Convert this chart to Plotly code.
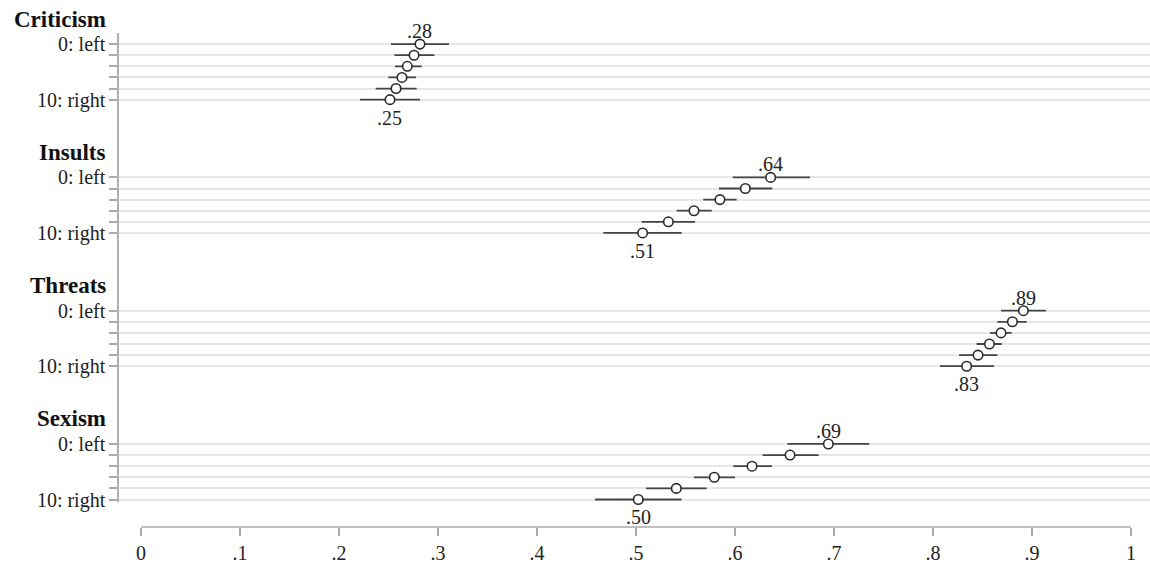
import plotly.graph_objects as go

groups = ["Criticism", "Insults", "Threats", "Sexism"]
row_labels = ["0: left", "", "", "", "", "10: right"]

# point estimates, rows ordered 0 (left) ... 10 (right)
criticism = [0.2818, 0.2758, 0.2690, 0.2636, 0.2576, 0.2515]
insults = [0.6360, 0.6104, 0.5848, 0.5586, 0.5327, 0.5067]
threats = [0.8913, 0.8802, 0.8687, 0.8570, 0.8455, 0.8340]
sexism = [0.6943, 0.6556, 0.6172, 0.5791, 0.5407, 0.5023]

criticism_lo = [0.2525, 0.2559, 0.2566, 0.2498, 0.2371, 0.2212]
criticism_hi = [0.3110, 0.2963, 0.2835, 0.2778, 0.2785, 0.2818]
insults_lo = [0.5977, 0.5838, 0.5680, 0.5411, 0.5057, 0.4670]
insults_hi = [0.6758, 0.6377, 0.6017, 0.5765, 0.5596, 0.5461]
threats_lo = [0.8687, 0.8650, 0.8576, 0.8441, 0.8263, 0.8070]
threats_hi = [0.9141, 0.8946, 0.8795, 0.8694, 0.8650, 0.8616]
sexism_lo = [0.6529, 0.6279, 0.5983, 0.5586, 0.5101, 0.4586]
sexism_hi = [0.7357, 0.6845, 0.6374, 0.6000, 0.5714, 0.5461]

x_ticks = [0, 0.1, 0.2, 0.3, 0.4, 0.5, 0.6, 0.7, 0.8, 0.9, 1.0]
x_ticktext = ["0", ".1", ".2", ".3", ".4", ".5", ".6", ".7", ".8", ".9", "1"]

est = [criticism, insults, threats, sexism]
lo = [criticism_lo, insults_lo, threats_lo, sexism_lo]
hi = [criticism_hi, insults_hi, threats_hi, sexism_hi]

FONT = "Liberation Serif"
GROUP_STEP = 12
W, H = 1150, 565

ml, mt, mb = 119, 33, 38
plot_h = H - mt - mb
ROW_PX = 11.1
last_row = (len(groups) - 1) * GROUP_STEP + 5
pad = 0.2
y_bottom = last_row + pad
y_top = -1
y_dom_low = (527 - 499.5 - pad * ROW_PX) / plot_h
x0_px = 141
px_per_unit = 990
x_min = (ml - x0_px) / px_per_unit
x_max = (W - x0_px) / px_per_unit


def y_to_paper(y):
    frac = (y_bottom - y) / (y_bottom - y_top)
    return y_dom_low + frac * (1 - y_dom_low)


def fmt(v):
    s = f"{v:.2f}"
    return s[1:] if s.startswith("0") else s


fig = go.Figure()
tickvals, ticktext = [], []
annotations = []

for g, name in enumerate(groups):
    ys = [g * GROUP_STEP + r for r in range(len(est[g]))]
    tickvals += ys
    ticktext += row_labels
    fig.add_trace(go.Scatter(
        x=est[g], y=ys, mode="markers", cliponaxis=False,
        marker=dict(symbol="circle", size=9.5, color="white",
                    line=dict(color="#2a2a2a", width=1.6)),
        error_x=dict(type="data", symmetric=False,
                     array=[h - v for h, v in zip(hi[g], est[g])],
                     arrayminus=[v - l for v, l in zip(est[g], lo[g])],
                     width=0, thickness=1.8, color="#454545"),
        showlegend=False, hoverinfo="x+y",
    ))
    # group header
    annotations.append(dict(x=0, xref="paper", y=y_to_paper(ys[0] - 2.25),
                            yref="paper",
                            text=f"<b>{name}</b>", showarrow=False,
                            xanchor="right", yanchor="middle", xshift=-11,
                            font=dict(family=FONT, size=23, color="#111111")))
    # value labels for first and last row
    annotations.append(dict(x=est[g][0], y=y_to_paper(ys[0]), xref="x",
                            yref="paper",
                            text=fmt(est[g][0]), showarrow=False,
                            yanchor="middle", yshift=13,
                            font=dict(family=FONT, size=20, color="#222222")))
    annotations.append(dict(x=est[g][-1], y=y_to_paper(ys[-1]), xref="x",
                            yref="paper",
                            text=fmt(est[g][-1]), showarrow=False,
                            yanchor="middle", yshift=-18,
                            font=dict(family=FONT, size=20, color="#222222")))

fig.update_layout(
    width=W, height=H,
    margin=dict(l=ml, r=0, t=mt, b=mb),
    paper_bgcolor="white", plot_bgcolor="white",
    font=dict(family=FONT, size=20, color="#222222"),
    xaxis=dict(range=[x_min, x_max], tickvals=x_ticks, ticktext=x_ticktext,
               showgrid=False, zeroline=False, showline=False,
               ticks="outside", ticklen=8, tickwidth=1.5, tickcolor="#aaaaaa",
               anchor="free", position=0,
               tickfont=dict(family=FONT, size=20, color="#222222")),
    yaxis=dict(range=[y_bottom, y_top], domain=[y_dom_low, 1],
               tickvals=tickvals, ticktext=ticktext,
               showgrid=True, gridcolor="#e6e6e6", gridwidth=1.5,
               zeroline=False, showline=True, linecolor="#b0b0b0", linewidth=1.5,
               ticks="outside", ticklen=8, tickwidth=1.5, tickcolor="#aaaaaa",
               tickfont=dict(family=FONT, size=20, color="#222222")),
    annotations=annotations,
    shapes=[dict(type="line", xref="x", yref="paper", x0=0, x1=1, y0=0, y1=0,
                 line=dict(color="#aaaaaa", width=1.5))],
)

fig.write_html("out.html")
